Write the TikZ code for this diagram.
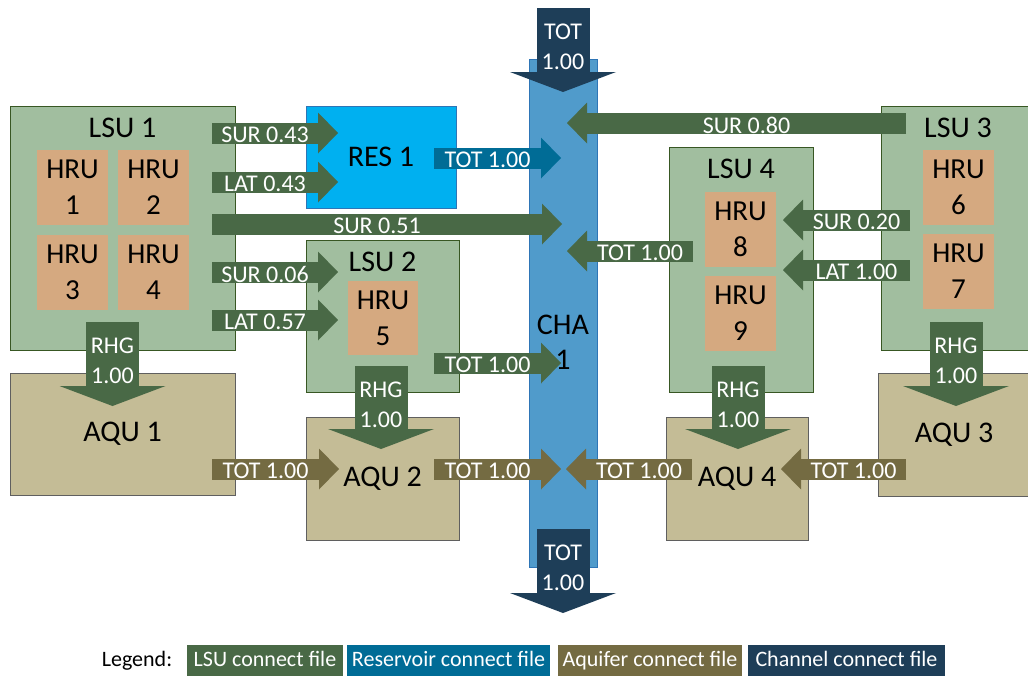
\documentclass[tikz,border=0pt]{standalone}
\usepackage{fontspec}
\setmainfont{Carlito}
\usepackage{tikz}
\usetikzlibrary{positioning}
\usetikzlibrary{arrows.meta}

\definecolor{lsufill}{RGB}{161,190,159}
\definecolor{lsuedge}{RGB}{56,87,35}
\definecolor{hrufill}{RGB}{213,169,128}
\definecolor{aqufill}{RGB}{196,188,150}
\definecolor{aquedge}{RGB}{95,95,95}
\definecolor{resfill}{RGB}{0,176,240}
\definecolor{resedge}{RGB}{46,117,182}
\definecolor{chafill}{RGB}{80,155,203}
\definecolor{chaedge}{RGB}{46,117,182}
\definecolor{lsuarrow}{RGB}{73,105,70}
\definecolor{resarrow}{RGB}{0,108,150}
\definecolor{aquarrow}{RGB}{116,107,66}
\definecolor{chaarrow}{RGB}{30,62,88}

\begin{document}
\begin{tikzpicture}
    [ x=1pt, y=-1pt, inner sep=0pt,
    lsu/.style={fill=lsufill, draw=lsuedge, line width=0.8pt},
    hru/.style={fill=hrufill, minimum width=71pt, minimum height=75pt, align=center, font=\fontsize{29}{36}\selectfont},
    aqu/.style={fill=aqufill, draw=aquedge, line width=0.8pt, font=\fontsize{30}{36}\selectfont},
    res/.style={fill=resfill, draw=resedge, line width=0.8pt, font=\fontsize{30}{36}\selectfont},
    cha/.style={fill=chafill, draw=chaedge, line width=0.8pt},
    boxtitle/.style={font=\fontsize{30}{35}\selectfont, align=center},
    flow/.style={line width=21pt, -{Triangle[length=20pt, width=41pt, line width=0pt]}},
    drop/.style={line width=53pt, -{Triangle[length=20pt, width=106pt, line width=0pt]}},
    lab/.style={text=white, font=\fontsize{24}{30}\selectfont, align=center},
    rlab/.style={lab, xshift=-10pt, yshift=-2pt},
    llab/.style={lab, xshift=10pt, yshift=-2pt},
    dlab/.style={lab, yshift=3pt},
    legbox/.style={lab, font=\fontsize{22}{26}\selectfont, minimum height=32pt, text height=15pt, text depth=5pt}
    ]

    \clip (0,0) rectangle (1028,675);
    \fill[white] (0,0) rectangle (1028,675);

    % units
    \node[lsu, minimum width=225pt, minimum height=244pt] (lsu1) at (122.5,228) {};
    \node[boxtitle, below=12pt of lsu1.north] (lsu1name) {LSU 1};
    \node[hru] (hru1) at (72.5,187.5) {HRU\\1};
    \node[hru] (hru2) at (153.5,187.5) {HRU\\2};
    \node[hru] (hru3) at (72.5,272) {HRU\\3};
    \node[hru] (hru4) at (153.5,272) {HRU\\4};

    \node[res, minimum width=150pt, minimum height=102pt] (res1) at (381,157) {RES 1};

    \node[lsu, minimum width=153pt, minimum height=152pt] (lsu2) at (382.5,316) {};
    \node[boxtitle, below=12pt of lsu2.north] (lsu2name) {LSU 2};
    \node[hru, minimum width=70pt, minimum height=74pt] (hru5) at (383,318) {HRU\\5};

    \node[lsu, minimum width=153pt, minimum height=244pt] (lsu3) at (958,228) {};
    \node[boxtitle, below=12pt of lsu3.north] (lsu3name) {LSU 3};
    \node[hru] (hru6) at (958.5,187.5) {HRU\\6};
    \node[hru] (hru7) at (958.5,271.5) {HRU\\7};

    \node[lsu, minimum width=144pt, minimum height=245pt] (lsu4) at (741,269.5) {};
    \node[boxtitle, below=12pt of lsu4.north] (lsu4name) {LSU 4};
    \node[hru] (hru8) at (740.5,229.5) {HRU\\8};
    \node[hru] (hru9) at (740.5,313) {HRU\\9};

    \node[aqu, minimum width=225pt, minimum height=122pt] (aqu1) at (122.5,434) {AQU 1};
    \node[aqu, minimum width=153pt, minimum height=123pt] (aqu2) at (382.5,478.5) {AQU 2};
    \node[aqu, minimum width=152pt, minimum height=123pt] (aqu3) at (954,434.5) {AQU 3};
    \node[aqu, minimum width=142pt, minimum height=123pt] (aqu4) at (737,478.5) {AQU 4};

    \node[cha, minimum width=68pt, minimum height=508pt] (cha1) at (563,313) {};
    \node[boxtitle] (cha1name) at (563,342) {CHA\\1};

    % arrow ends
    \coordinate (l1sur) at (212,133);   \coordinate (r1sur) at (338,133);
    \coordinate (l1lat) at (212,182);   \coordinate (r1lat) at (338,182);
    \coordinate (l1cha) at (212,224);   \coordinate (c1sur) at (562,224);
    \coordinate (l1sur2) at (212,272);  \coordinate (l2sur) at (338,272);
    \coordinate (l1lat2) at (212,320);  \coordinate (l2lat) at (338,320);
    \coordinate (r1out) at (434,158);   \coordinate (c1res) at (561,158);
    \coordinate (l2out) at (434,363);   \coordinate (c1l2) at (561,363);
    \coordinate (l3cha) at (906,123);   \coordinate (c1l3) at (567,123);
    \coordinate (l4out) at (693,251);   \coordinate (c1l4) at (567,251);
    \coordinate (l3sur) at (910,220);   \coordinate (l4sur) at (783,220);
    \coordinate (l3lat) at (910,270);   \coordinate (l4lat) at (783,270);
    \coordinate (a1out) at (212,469);   \coordinate (a2in) at (339,469);
    \coordinate (a2out) at (434,469);   \coordinate (c1a2) at (561,469);
    \coordinate (a4out) at (692,469);   \coordinate (c1a4) at (566,469);
    \coordinate (a3out) at (906,469);   \coordinate (a4in) at (781,469);
    \coordinate (rhg1a) at (112.5,322); \coordinate (rhg1b) at (112.5,406);
    \coordinate (rhg2a) at (381,366);   \coordinate (rhg2b) at (381,449);
    \coordinate (rhg3a) at (956,322);   \coordinate (rhg3b) at (956,406);
    \coordinate (rhg4a) at (738,366);   \coordinate (rhg4b) at (738,449);
    \coordinate (chain) at (563,8);     \coordinate (chatop) at (563,92);
    \coordinate (chabot) at (563,529);  \coordinate (chaout) at (563,613);

    % LSU connect
    \draw[flow, lsuarrow] (l1sur) -- node[rlab]{SUR 0.43} (r1sur);
    \draw[flow, lsuarrow] (l1lat) -- node[rlab]{LAT 0.43} (r1lat);
    \draw[flow, lsuarrow] (l1cha) -- node[rlab]{SUR 0.51} (c1sur);
    \draw[flow, lsuarrow] (l1sur2) -- node[rlab]{SUR 0.06} (l2sur);
    \draw[flow, lsuarrow] (l1lat2) -- node[rlab]{LAT 0.57} (l2lat);
    \draw[flow, lsuarrow] (l2out) -- node[rlab]{TOT 1.00} (c1l2);
    \draw[flow, lsuarrow] (l3cha) -- node[llab]{SUR 0.80} (c1l3);
    \draw[flow, lsuarrow] (l4out) -- node[llab]{TOT 1.00} (c1l4);
    \draw[flow, lsuarrow] (l3sur) -- node[llab]{SUR 0.20} (l4sur);
    \draw[flow, lsuarrow] (l3lat) -- node[llab]{LAT 1.00} (l4lat);
    \draw[drop, lsuarrow] (rhg1a) -- node[dlab]{RHG\\1.00} (rhg1b);
    \draw[drop, lsuarrow] (rhg2a) -- node[dlab]{RHG\\1.00} (rhg2b);
    \draw[drop, lsuarrow] (rhg3a) -- node[dlab]{RHG\\1.00} (rhg3b);
    \draw[drop, lsuarrow] (rhg4a) -- node[dlab]{RHG\\1.00} (rhg4b);

    % reservoir connect
    \draw[flow, resarrow] (r1out) -- node[rlab]{TOT 1.00} (c1res);

    % aquifer connect
    \draw[flow, aquarrow] (a1out) -- node[rlab]{TOT 1.00} (a2in);
    \draw[flow, aquarrow] (a2out) -- node[rlab]{TOT 1.00} (c1a2);
    \draw[flow, aquarrow] (a4out) -- node[llab]{TOT 1.00} (c1a4);
    \draw[flow, aquarrow] (a3out) -- node[llab]{TOT 1.00} (a4in);

    % channel connect
    \draw[drop, chaarrow] (chain) -- node[dlab]{TOT\\1.00} (chatop);
    \draw[drop, chaarrow] (chabot) -- node[dlab]{TOT\\1.00} (chaout);

    % legend
    \node[font=\fontsize{22}{26}\selectfont] (legend) at (137,661) {Legend:};
    \node[legbox, fill=lsuarrow, minimum width=156pt] (leglsu) at (265,661) {LSU connect file};
    \node[legbox, fill=resarrow, minimum width=203pt] (legres) at (448.5,661) {Reservoir connect file};
    \node[legbox, fill=aquarrow, minimum width=184pt] (legaqu) at (650,661) {Aquifer connect file};
    \node[legbox, fill=chaarrow, minimum width=197pt] (legcha) at (846.5,661) {Channel connect file};
  \end{tikzpicture}
\end{document}
